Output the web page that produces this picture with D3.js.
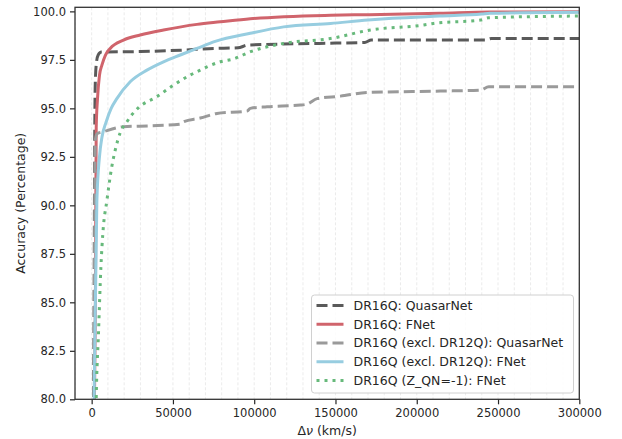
<!DOCTYPE html>
<html>
<head>
<meta charset="utf-8">
<script src="https://cdn.jsdelivr.net/npm/d3@7"></script>
<style>
  html, body { margin: 0; padding: 0; background: #fff; }
  text { font-family: "DejaVu Sans", sans-serif; fill: #262626; }
</style>
</head>
<body>
<svg id="chart" width="622" height="439"></svg>
<script>
// ---- data (x = Δν in km/s, y = accuracy in %) ----
const seriesNames = [
  "DR16Q: QuasarNet",
  "DR16Q: FNet",
  "DR16Q (excl. DR12Q): QuasarNet",
  "DR16Q (excl. DR12Q): FNet",
  "DR16Q (Z_QN=-1): FNet"
];

const dr16qQuasarNet = [
  [1000,76],[1500,85],[1800,92],[2000,95],[2300,96.5],[3000,97.4],[4000,97.75],[6000,97.9],
  [30000,97.93],[55000,98.0],[75000,98.09],[90000,98.12],[96000,98.26],[140000,98.35],
  [168000,98.4],[172000,98.52],[242000,98.52],[246000,98.6],[300000,98.6]
];
const dr16qFNet = [
  [1500,78],[2300,85],[2800,94],[3600,95.5],[4800,96.7],[6300,97.23],[8500,97.75],[11400,98.09],
  [19600,98.52],[29900,98.78],[44200,99.04],[64800,99.33],[79100,99.46],[97600,99.62],
  [147000,99.8],[170000,99.83],[214000,99.9],[245000,99.97],[300000,99.98]
];
const exclQuasarNet = [
  [1000,76],[1500,80],[1800,88],[2000,92],[2300,93.4],[3500,93.7],[7300,93.8],[19600,94.05],
  [36000,94.1],[54500,94.19],[56500,94.31],[66800,94.5],[77100,94.74],[95600,94.86],[97600,95.0],
  [107900,95.08],[128400,95.17],[132500,95.22],[138700,95.5],[153000,95.63],[169500,95.82],
  [214600,95.89],[239200,95.94],[244300,96.11],[300000,96.11]
];
const exclFNet = [
  [1000,78],[1500,80],[3200,90.2],[4800,92.5],[6300,93.5],[8900,94.3],[12000,95.0],[15500,95.5],
  [23700,96.37],[34000,96.97],[44200,97.4],[54500,97.75],[64800,98.09],[76000,98.45],[97600,98.87],
  [118100,99.2],[147000,99.38],[170000,99.55],[185000,99.64],[214000,99.76],[240000,99.86],
  [245000,99.9],[300000,99.95]
];
const zqnFNet = [
  [2400,78],[2800,80],[4200,83.4],[5700,86.84],[6900,88.57],[9400,90.27],[12400,92.0],[14500,92.85],
  [17500,93.73],[21700,94.31],[25000,94.7],[29000,95.05],[40100,95.6],[50400,96.2],[60700,96.72],
  [66800,96.97],[70900,97.14],[79100,97.4],[87300,97.55],[97600,97.92],[118100,98.35],[146900,98.6],
  [171500,99.04],[204300,99.3],[210300,99.38],[239200,99.55],[244200,99.67],[300000,99.76]
];

const xTicks = [0, 50000, 100000, 150000, 200000, 250000, 300000];
const yTicks = [80.0, 82.5, 85.0, 87.5, 90.0, 92.5, 95.0, 97.5, 100.0];
const gridTicks = d3.range(-10000, 300001, 10000);

// ---- styles ----
const styles = [
  { color: "#5a5a5a", dash: "11,5", data: dr16qQuasarNet },
  { color: "#d0646c", dash: null,   data: dr16qFNet },
  { color: "#9a9a9a", dash: "11,5", data: exclQuasarNet },
  { color: "#97cde0", dash: null,   data: exclFNet },
  { color: "#67b97b", dash: "3,5",  data: zqnFNet }
];

const margin = { left: 75, top: 7.3, right: 622 - 579.3, bottom: 439 - 399.3 };
const W = 622 - margin.left - margin.right;
const H = 439 - margin.top - margin.bottom;

const svg = d3.select("#chart");
const g = svg.append("g").attr("transform", `translate(${margin.left},${margin.top})`);

const x = d3.scaleLinear().domain([-10250, 300000]).range([0, W]);
const y = d3.scaleLinear().domain([80, 100.21]).range([H, 0]);

svg.append("defs").append("clipPath").attr("id", "clip")
  .append("rect").attr("x", 0).attr("y", 0).attr("width", W).attr("height", H);

// grid (vertical, light dashed)
g.append("g").selectAll("line").data(gridTicks.filter(d => d > -10250)).join("line")
  .attr("x1", d => x(d)).attr("x2", d => x(d))
  .attr("y1", 0).attr("y2", H)
  .attr("stroke", "#e6e6e6").attr("stroke-width", 0.8)
  .attr("stroke-dasharray", "3,2");

// lines
const line = d3.line().x(d => x(d[0])).y(d => y(d[1])).curve(d3.curveMonotoneX);
const lines = g.append("g").attr("clip-path", "url(#clip)");
styles.forEach(s => {
  lines.append("path").datum(s.data)
    .attr("d", line)
    .attr("fill", "none")
    .attr("stroke", s.color)
    .attr("stroke-width", 3)
    .attr("stroke-dasharray", s.dash)
    .attr("stroke-linejoin", "round");
});

// axes
const xAxis = d3.axisBottom(x).tickValues(xTicks).tickFormat(d3.format("d")).tickSize(5).tickPadding(5);
const yAxis = d3.axisLeft(y).tickValues(yTicks).tickFormat(d3.format(".1f")).tickSize(5).tickPadding(4);

const gx = g.append("g").attr("transform", `translate(0,${H})`).call(xAxis);
const gy = g.append("g").call(yAxis);
[gx, gy].forEach(a => {
  a.select(".domain").remove();
  a.selectAll(".tick line").attr("stroke", "#262626").attr("stroke-width", 1.2);
  a.selectAll(".tick text").attr("font-size", 11.5).attr("fill", "#262626")
    .attr("font-family", "DejaVu Sans, sans-serif");
});

// frame
g.append("rect").attr("x", 0).attr("y", 0).attr("width", W).attr("height", H)
  .attr("fill", "none").attr("stroke", "#333").attr("stroke-width", 1.3);

// axis titles
const xt = svg.append("text")
  .attr("x", margin.left + W / 2).attr("y", 434.5)
  .attr("text-anchor", "middle").attr("font-size", 12.5);
xt.append("tspan").text("Δ");
xt.append("tspan").attr("font-style", "italic").text("ν");
xt.append("tspan").text(" (km/s)");

svg.append("text")
  .attr("transform", `translate(25,${margin.top + H / 2}) rotate(-90)`)
  .attr("text-anchor", "middle").attr("font-size", 12.5)
  .text("Accuracy (Percentage)");

// legend
const lg = svg.append("g").attr("transform", "translate(311.5,295)");
lg.append("rect").attr("width", 262).attr("height", 98).attr("rx", 3)
  .attr("fill", "rgba(255,255,255,0.85)").attr("stroke", "#d0d0d0").attr("stroke-width", 1);
styles.forEach((s, i) => {
  const yy = 10.5 + i * 18.75;
  lg.append("line").attr("x1", 5).attr("x2", 32).attr("y1", yy).attr("y2", yy)
    .attr("stroke", s.color).attr("stroke-width", 3).attr("stroke-dasharray", s.dash);
  lg.append("text").attr("x", 42).attr("y", yy).attr("dy", "0.35em")
    .attr("font-size", 12.5).text(seriesNames[i]);
});
</script>
</body>
</html>
